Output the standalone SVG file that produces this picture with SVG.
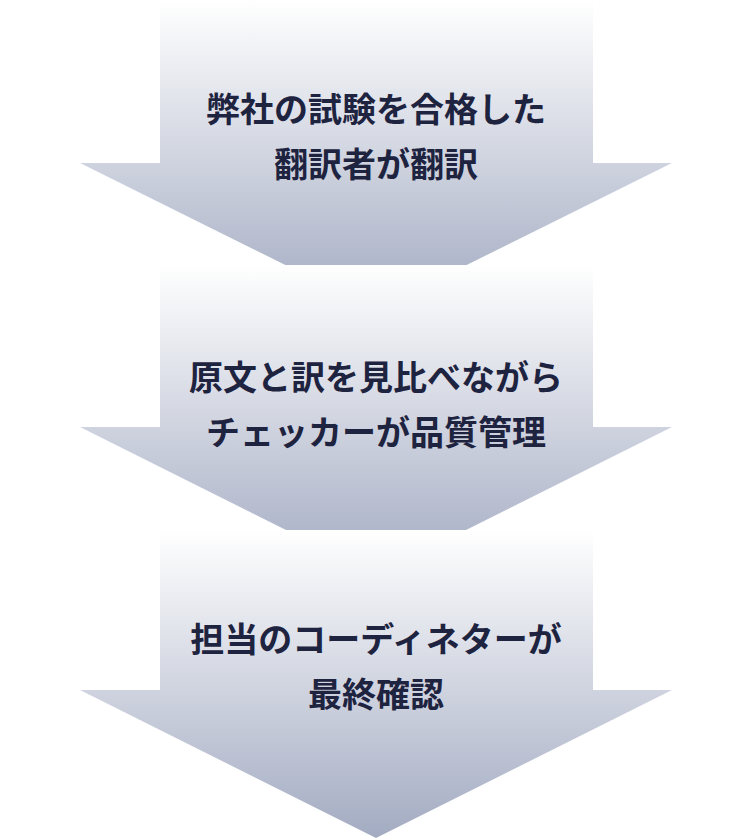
<svg xmlns="http://www.w3.org/2000/svg" width="750" height="840" viewBox="0 0 750 840">
<defs>
<linearGradient id="g" x1="0" y1="0" x2="0" y2="1">
<stop offset="0" stop-color="#ffffff"/>
<stop offset="1" stop-color="#a3abc2"/>
</linearGradient>
<style>
.a{fill:url(#g)}
.t{font-family:"Noto Sans CJK JP",sans-serif;font-weight:bold;font-size:34px;fill:#1e2340;text-anchor:middle}
</style>
</defs>
<g id="connectors"/>
<g id="step1">
<polygon class="a" points="160,0 593,0 593,163 672,163 376,310 80,163 160,163"/>
<text class="t" x="376" y="122">弊社の試験を合格した</text>
<text class="t" x="376" y="177">翻訳者が翻訳</text>
</g>
<g id="step2">
<polygon class="a" points="160,265 593,265 593,427 672,427 376,575 80,427 160,427"/>
<text class="t" x="376" y="390">原文と訳を見比べながら</text>
<text class="t" x="376" y="445">チェッカーが品質管理</text>
</g>
<g id="step3">
<polygon class="a" points="160,530 593,530 593,690 672,690 376,838 80,690 160,690"/>
<text class="t" x="376" y="652">担当のコーディネターが</text>
<text class="t" x="376" y="707">最終確認</text>
</g>
</svg>
